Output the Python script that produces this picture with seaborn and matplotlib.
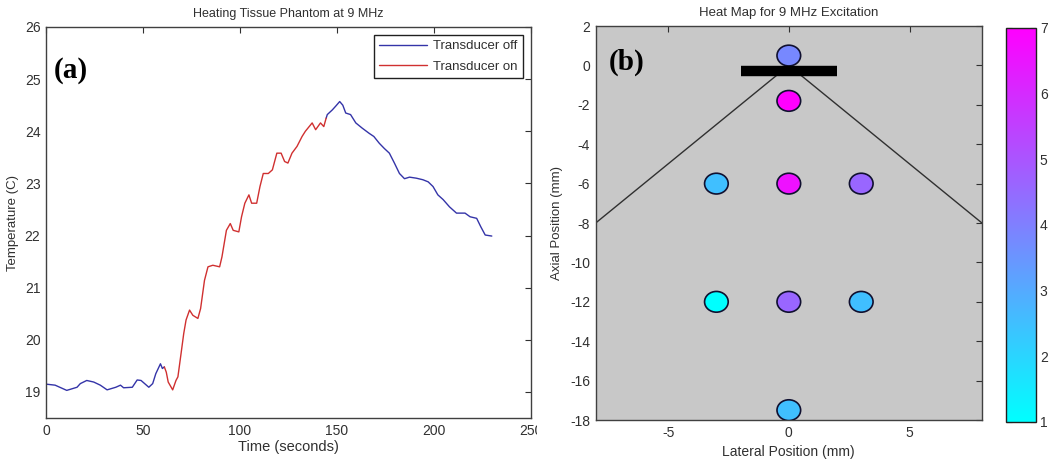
import matplotlib
matplotlib.use("Agg")
import matplotlib.pyplot as plt
from matplotlib.path import Path
from matplotlib.transforms import Affine2D
import pandas as pd
import seaborn as sns

# panel (a): temperature trace
time_off1 = [0, 4.7, 10.7, 16, 17.7, 21, 24.6, 28, 31.5, 36, 38.4, 40, 44.5, 47, 49,
             53, 55, 56.6, 59, 60, 61]
temp_off1 = [19.15, 19.13, 19.03, 19.09, 19.16, 19.22, 19.19, 19.13, 19.04, 19.09, 19.13,
             19.08, 19.09, 19.23, 19.22, 19.09, 19.16, 19.35, 19.54, 19.45, 19.48]
time_on = [61, 62, 63, 65.3, 67, 68, 69.6, 71, 72.2, 74, 75.7, 78.3, 79.7, 81.7, 83.5,
           86, 89.5, 90.7, 93, 95, 96.5, 99.4, 100.8, 102.5, 104.6, 106, 108.6, 110.3,
           112, 114.6, 116.7, 119, 121.2, 123, 124.7, 126.8, 129.4, 132, 133.7, 137.2,
           139, 141.5, 143.2, 144.4]
temp_on = [19.48, 19.38, 19.19, 19.04, 19.22, 19.29, 19.73, 20.12, 20.38, 20.57, 20.47,
           20.41, 20.6, 21.14, 21.4, 21.43, 21.4, 21.59, 22.1, 22.23, 22.1, 22.07, 22.36,
           22.62, 22.78, 22.62, 22.62, 22.94, 23.19, 23.19, 23.26, 23.58, 23.58, 23.42,
           23.39, 23.58, 23.71, 23.9, 24.0, 24.16, 24.03, 24.16, 24.09, 24.25]
time_off2 = [144.4, 145, 147.6, 149.3, 151.4, 153, 154.5, 157, 159.7, 163, 166.6, 169,
             171.8, 174.4, 177, 179.6, 182.2, 184.8, 187.4, 190.9, 194.3, 197, 199.5, 202,
             204.7, 208, 211.6, 216, 218.6, 222, 224.1, 226.4, 229.8]
temp_off2 = [24.25, 24.32, 24.41, 24.48, 24.57, 24.5, 24.35, 24.32, 24.16, 24.06, 23.96,
             23.9, 23.77, 23.67, 23.58, 23.39, 23.19, 23.09, 23.12, 23.1, 23.07, 23.03,
             22.94, 22.78, 22.69, 22.55, 22.43, 22.43, 22.36, 22.33, 22.17, 22.01, 21.99]

# panel (b): measured temperature rise at each probe position
lateral = [0, 0, -3, 0, 3, -3, 0, 3, 0]
axial = [0.5, -1.8, -6, -6, -6, -12, -12, -12, -17.5]
rise = [3.8, 7.0, 2.5, 6.6, 4.6, 1.0, 4.6, 2.5, 2.5]

beam_left_x = [-8, -0.5]
beam_left_y = [-8, -0.5]
beam_right_x = [0.5, 8]
beam_right_y = [-0.5, -8]
bar_x = [-2, 2]
bar_y = [-0.3, -0.3]

sns.set_theme(style="white")
plt.rcParams["font.family"] = ["Liberation Sans", "DejaVu Sans"]
plt.rcParams["axes.unicode_minus"] = False
plt.rcParams["axes.edgecolor"] = "#404040"
plt.rcParams["text.color"] = "#303030"
plt.rcParams["axes.labelcolor"] = "#303030"
plt.rcParams["xtick.color"] = "#303030"
plt.rcParams["ytick.color"] = "#303030"

fig = plt.figure(figsize=(10.5, 4.67), dpi=100)
fig.patch.set_facecolor("white")

trace = pd.concat([
    pd.DataFrame({"time": time_off1, "temp": temp_off1, "state": "Transducer off", "seg": 0}),
    pd.DataFrame({"time": time_on, "temp": temp_on, "state": "Transducer on", "seg": 1}),
    pd.DataFrame({"time": time_off2, "temp": temp_off2, "state": "Transducer off", "seg": 2}),
], ignore_index=True)

ax1 = fig.add_axes([0.0438, 0.1049, 0.4619, 0.8373])
sns.lineplot(data=trace, x="time", y="temp", hue="state", units="seg", estimator=None,
             sort=False, hue_order=["Transducer off", "Transducer on"],
             palette={"Transducer off": "#3434a8", "Transducer on": "#d03030"},
             lw=1.0, ax=ax1)
ax1.set_xlim(0, 250)
ax1.set_ylim(18.5, 26)
ax1.set_xticks([0, 50, 100, 150, 200, 250])
ax1.set_yticks([19, 20, 21, 22, 23, 24, 25, 26])
ax1.set_xlabel("Time (seconds)", fontsize=10.5, labelpad=2)
ax1.set_ylabel("Temperature (C)", fontsize=9.5, labelpad=4)
ax1.set_title("Heating Tissue Phantom at 9 MHz", fontsize=9, pad=7)
handles, labels = ax1.get_legend_handles_labels()
ax1.legend(handles, labels, loc="upper right", fontsize=9.5, frameon=True, fancybox=False,
           edgecolor="#202020", framealpha=1, borderaxespad=0.6, handlelength=3.6,
           borderpad=0.4, labelspacing=0.6, handletextpad=0.5)
ax1.get_legend().get_frame().set_linewidth(1.0)
ax1.text(0.015, 0.87, "(a)", transform=ax1.transAxes, family="Liberation Serif",
         fontweight="bold", fontsize=21, color="black")

# panel (b) sits on a white sheet that clips the left panel
cover = fig.add_axes([537 / 1050, 0, 1 - 537 / 1050, 1])
cover.set_facecolor("white")
cover.set_xticks([])
cover.set_yticks([])
for s in cover.spines.values():
    s.set_visible(False)

heat = pd.DataFrame({"lateral": lateral, "axial": axial, "rise": rise})
ellipse = Path.unit_circle().transformed(Affine2D().scale(1.14, 1.0))

ax2 = fig.add_axes([0.5673, 0.1006, 0.3679, 0.8437])
ax2.set_facecolor("#c8c8c8")
ax2.plot(beam_left_x, beam_left_y, color="#303030", lw=1.0, zorder=2)
ax2.plot(beam_right_x, beam_right_y, color="#303030", lw=1.0, zorder=2)
sns.scatterplot(data=heat, x="lateral", y="axial", hue="rise", palette="cool",
                hue_norm=(1, 7), marker=ellipse, s=290, edgecolor="#101030",
                linewidth=1.2, legend=False, ax=ax2, zorder=3)
ax2.plot(bar_x, bar_y, color="black", lw=7.5, solid_capstyle="butt", zorder=4)
ax2.set_xlim(-8, 8)
ax2.set_ylim(-18, 2)
ax2.set_xticks([-5, 0, 5])
ax2.set_yticks(list(range(2, -19, -2)))
ax2.set_xlabel("Lateral Position (mm)", fontsize=10, labelpad=4)
ax2.set_ylabel("Axial Position (mm)", fontsize=9.5, labelpad=5)
ax2.set_title("Heat Map for 9 MHz Excitation", fontsize=9.5, pad=7)
ax2.text(0.035, 0.89, "(b)", transform=ax2.transAxes, family="Liberation Serif",
         fontweight="bold", fontsize=21, color="black")

for ax in (ax1, ax2):
    ax.tick_params(direction="in", length=4.5, width=0.8, top=True, right=True,
                   labelsize=10, pad=4)
    for s in ax.spines.values():
        s.set_linewidth(1.0)
        s.set_visible(True)

cax = fig.add_axes([0.9581, 0.097, 0.0283, 0.8437])
sm = plt.cm.ScalarMappable(cmap="cool", norm=plt.Normalize(1, 7))
cb = fig.colorbar(sm, cax=cax)
cb.set_ticks([1, 2, 3, 4, 5, 6, 7])
cb.outline.set_edgecolor("#202020")
cb.outline.set_linewidth(1.0)
cax.tick_params(direction="in", length=4, width=0.8, left=True, right=True,
                labelsize=10, pad=3)

fig.savefig("out.png", dpi=100)
